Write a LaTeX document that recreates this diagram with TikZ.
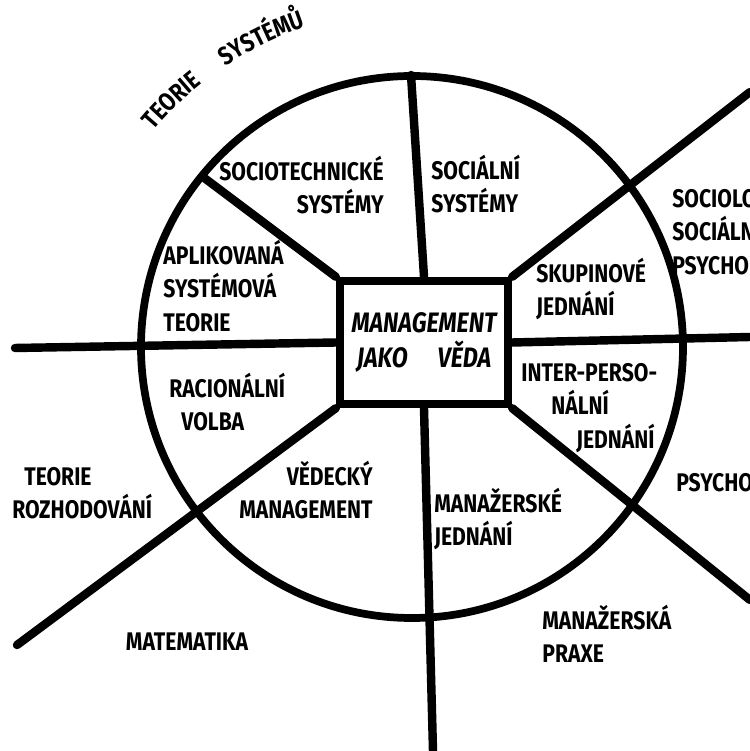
\documentclass[tikz,border=0pt]{standalone}
\usepackage{fontspec}
\newfontfamily\handfont[FakeStretch=0.83]{Fira Sans}
\usetikzlibrary{calc,decorations.text}
\newcommand\lblfont{\handfont\bfseries\fontsize{14.5}{19}\selectfont}
\newcommand\hubfont{\handfont\bfseries\itshape\fontsize{16}{20}\selectfont}
\tikzset{
  thk/.style={line width=4.8pt, line cap=round},
  rim/.style={line width=4.4pt},
  lbl/.style={font=\lblfont, inner sep=0pt},
  hub/.style={draw, line width=4.8pt, fill=white, minimum width=3.36cm, minimum height=2.46cm, inner sep=0pt, align=center, font=\hubfont},
  arctxt/.style={decorate, decoration={text along path, text align=left, text={|\lblfont|#1}}},
}
\begin{document}
\begin{tikzpicture}[x=0.02cm, y=0.02cm]
    \useasboundingbox (0,0) rectangle (750,751);
    \clip (0,0) rectangle (750,751);
    \coordinate (c) at (412,404);
    \draw[rim] (c) circle[radius=271];
    \node[hub] (sq) at (424,408.5) {MANAGEMENT\\JAKO\hspace{0.6cm}VĚDA};
    \coordinate (tp) at (411,676);
    \coordinate (ul) at (203,574);
    \coordinate (lf) at (15,403);
    \coordinate (ll) at (17,106);
    \coordinate (bt) at (433,0);
    \coordinate (lr) at (750,151);
    \coordinate (rt) at (750,414);
    \coordinate (ur) at (750,659);
    \foreach \a/\b in {sq.north/tp, sq.north west/ul, sq.west/lf, sq.south west/ll, sq.south/bt, sq.south east/lr, sq.east/rt, sq.north east/ur}
      \draw[thk] (\a) -- (\b);
    \path[arctxt=TEORIE] ($(c)+(140:337)$) arc[start angle=140, end angle=122, radius=337];
    \path[arctxt=SYSTÉMŮ] ($(c)+(123.6:337)$) arc[start angle=123.6, end angle=92, radius=337];
    \node[lbl, anchor=east, align=right] (sts) at (384,566) {SOCIOTECHNICKÉ\\SYSTÉMY};
    \node[lbl, anchor=west, align=left] (ss) at (431,567) {SOCIÁLNÍ\\SYSTÉMY};
    \node[lbl, anchor=west, align=left] (ast) at (163,465) {APLIKOVANÁ\\SYSTÉMOVÁ\\TEORIE};
    \node[lbl, anchor=west, align=left] (sj) at (536,462) {SKUPINOVÉ\\JEDNÁNÍ};
    \node[lbl, anchor=west, align=left] (ipj) at (521,343) {INTER-PERSO-\\\hspace*{0.6cm}NÁLNÍ\\\hspace*{1.1cm}JEDNÁNÍ};
    \node[lbl, anchor=west, align=left] (rv) at (169,349) {RACIONÁLNÍ\\\hspace*{0.24cm}VOLBA};
    \node[lbl, anchor=east, align=right] (vm) at (373,261) {VĚDECKÝ\\MANAGEMENT};
    \node[lbl, anchor=west, align=left] (mj) at (434,232) {MANAŽERSKÉ\\JEDNÁNÍ};
    \node[lbl, anchor=west, align=left] (sp) at (672,519) {SOCIOLOGIE\\SOCIÁLNÍ\\PSYCHOLOGIE};
    \node[lbl, anchor=west] (ps) at (676,268) {PSYCHOLOGIE};
    \node[lbl, anchor=west, align=left] (tr) at (12,258) {\hspace*{0.24cm}TEORIE\\ROZHODOVÁNÍ};
    \node[lbl] (mat) at (187,109) {MATEMATIKA};
    \node[lbl, anchor=west, align=left] (mp) at (542,117) {MANAŽERSKÁ\\PRAXE};
  \end{tikzpicture}
\end{document}
